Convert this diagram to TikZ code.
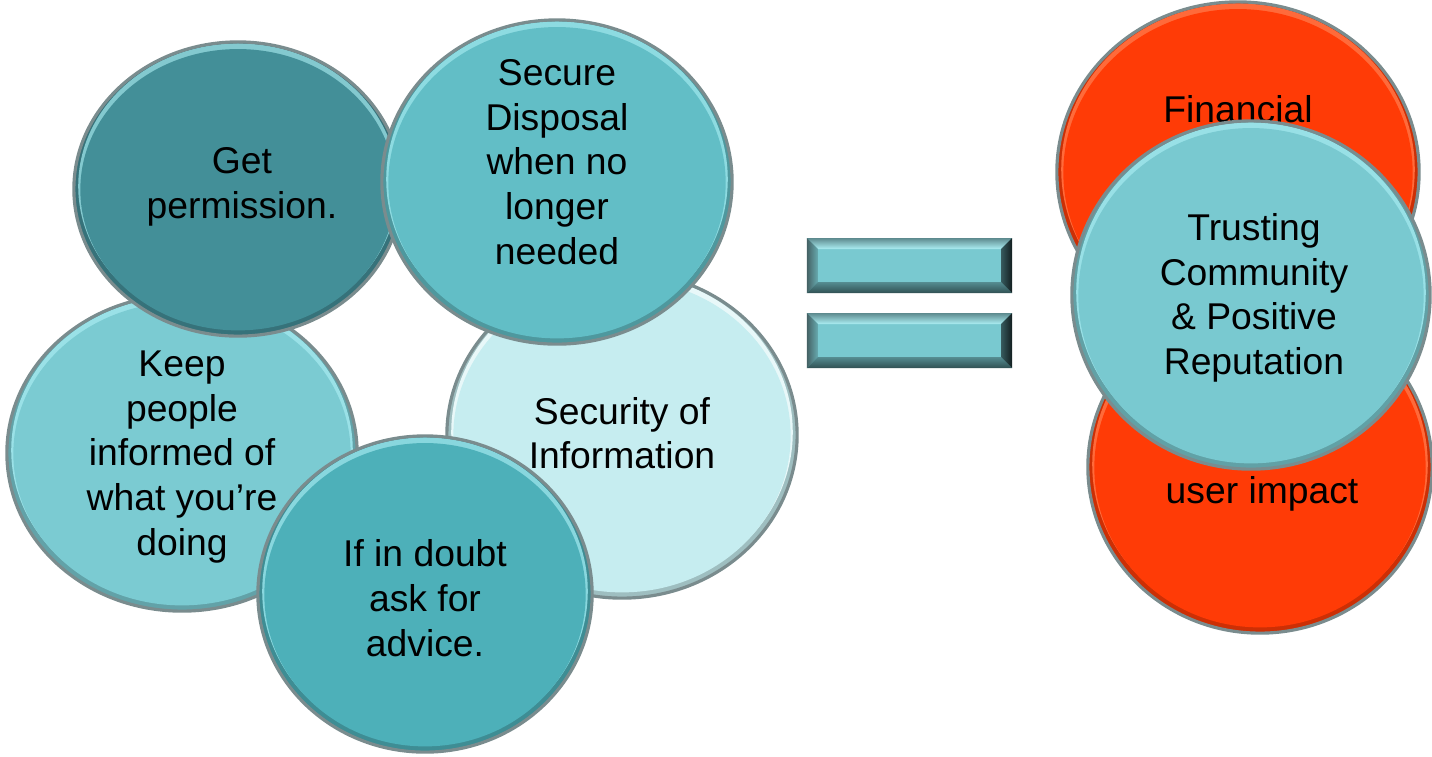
\documentclass[tikz,border=0pt]{standalone}
\usepackage{fontspec}
\setmainfont{Liberation Sans}
\usetikzlibrary{shapes.geometric}

\definecolor{permteal}{HTML}{438F98}
\definecolor{disposeteal}{HTML}{62BEC6}
\definecolor{keepteal}{HTML}{7BCBD2}
\definecolor{infoteal}{HTML}{C6EDF0}
\definecolor{doubtteal}{HTML}{4DB0B9}
\definecolor{trustteal}{HTML}{79C9D0}
\definecolor{riskorange}{HTML}{FF3B06}
\definecolor{rimgray}{HTML}{7A8C8E}
\definecolor{glint}{HTML}{B8F8FC}
\definecolor{glintorange}{HTML}{FF6A3A}

\begin{document}
\begin{tikzpicture}[x=0.01cm, y=-0.01cm,
  bubble/.style n args={4}{ellipse, draw=rimgray, line width=.9pt, fill=#1!80!black,
    minimum width={#3*0.02cm}, minimum height={#4*0.02cm}, inner sep=0pt, outer sep=0pt,
    path picture={
      \fill [#2] ([yshift=.8pt]path picture bounding box.center)
        ellipse [x radius={#3*0.01cm-1.2pt}, y radius={#4*0.01cm-1.2pt}];
      \fill [#1] ([yshift=-.2pt]path picture bounding box.center)
        ellipse [x radius={#3*0.01cm-1.8pt}, y radius={#4*0.01cm-1.8pt}];
    }},
  txt/.style={align=center, inner sep=0pt, font=\fontsize{10.6}{12.7}\selectfont},
  bar/.style={rectangle, fill=trustteal, minimum width=2.05cm, minimum height=.55cm,
    inner sep=0pt, outer sep=0pt}]
\useasboundingbox (0,0) rectangle (1432,756);

% five good habits
\node (keep) [bubble={keepteal}{keepteal!50!glint}{175}{158}] at (182,453) {};
\node (keeptext) [txt] at (182,457) {Keep\\people\\informed of\\what you’re\\doing};
\node (info) [bubble={infoteal}{infoteal!40!white}{175}{163}] at (622,435) {};
\node (infotext) [txt] at (622,433) {Security of\\Information};
\node (perm) [bubble={permteal}{permteal!45!glint}{164}{147}] at (238,189) {};
\node (permtext) [txt] at (242,187) {Get\\permission.};
\node (dispose) [bubble={disposeteal}{disposeteal!50!glint}{175}{162}] at (557,182) {};
\node (disposetext) [txt] at (557,162) {Secure\\Disposal\\when no\\longer\\needed};
\node (doubt) [bubble={doubtteal}{doubtteal!45!glint}{167}{158}] at (425,594) {};
\node (doubttext) [txt] at (425,598) {If in doubt\\ask for\\advice.};

% the equals sign
\node (bartop) [bar] at (909.5,265.5) {};
\node (barbot) [bar] at (909.5,340.5) {};
\foreach \b in {bartop,barbot} {
  \shade [top color=black!30!trustteal!80!gray, bottom color=glint!80!trustteal]
    (\b.north west) -- (\b.north east) -- ([shift={(-11,11)}]\b.north east)
    -- ([shift={(11,11)}]\b.north west) -- cycle;
  \shade [left color=trustteal!45!black!80!gray, right color=trustteal!85!black]
    (\b.north west) -- ([shift={(11,11)}]\b.north west)
    -- ([shift={(11,-11)}]\b.south west) -- (\b.south west) -- cycle;
  \shade [top color=trustteal!70!black, bottom color=trustteal!40!black]
    (\b.south west) -- ([shift={(11,-11)}]\b.south west)
    -- ([shift={(-11,-11)}]\b.south east) -- (\b.south east) -- cycle;
  \shade [left color=trustteal!45!black, right color=black!85!trustteal]
    (\b.north east) -- ([shift={(-11,11)}]\b.north east)
    -- ([shift={(-11,-11)}]\b.south east) -- (\b.south east) -- cycle;
}

% what comes of them
\node (fin) [bubble={riskorange}{glintorange}{181}{170}] at (1238,172) {};
\node (fintext) [txt, anchor=base] at (1238,122) {Financial};
\node (impact) [bubble={riskorange}{glintorange}{172}{166}] at (1260,467) {};
\node (impacttext) [txt, anchor=base] at (1262,503) {user impact};
\node (trust) [bubble={trustteal}{trustteal!50!glint}{179}{174}] at (1251,295) {};
\node (trusttext) [txt] at (1254,298) {Trusting\\Community\\\& Positive\\Reputation};
\end{tikzpicture}
\end{document}
